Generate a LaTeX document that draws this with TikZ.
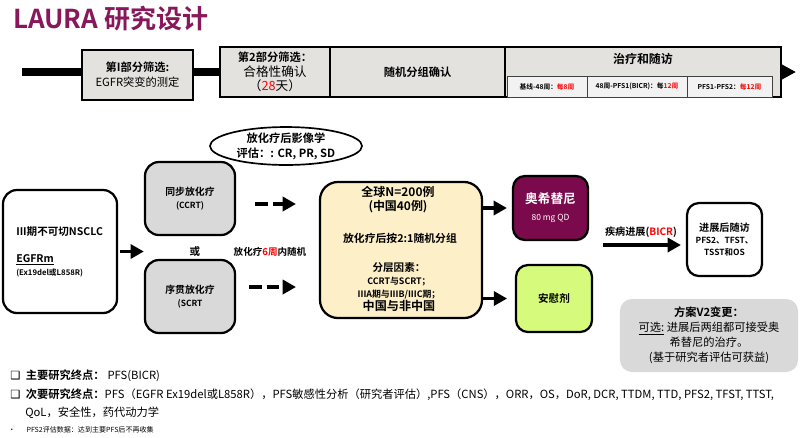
\documentclass[tikz,border=0pt]{standalone}
\usepackage{fontspec}
\setmainfont{Noto Sans CJK SC}[BoldFont={Noto Sans CJK SC Bold}]
\newfontfamily\symfont{DejaVu Sans}
\usepackage{xcolor}
\usetikzlibrary{arrows.meta,positioning,shapes.geometric}
\definecolor{titlered}{HTML}{87185B}
\definecolor{phase}{HTML}{E3E2DF}
\definecolor{phaselight}{HTML}{F2F2F2}
\definecolor{rtgray}{HTML}{D9D9D9}
\definecolor{cream}{HTML}{FDEFC8}
\definecolor{osired}{HTML}{7A0A4C}
\definecolor{lime}{HTML}{D6FA7C}
\definecolor{hl}{HTML}{FF0000}
\newcommand{\fsz}[2]{\fontsize{#1}{#2}\selectfont}

\begin{document}
\begin{tikzpicture}[x=0.025cm,y=-0.025cm,
    phasebox/.style={draw=black,line width=1.2pt,fill=phase,minimum height=12.5mm,
                     inner sep=1pt,align=center,font=\fsz{8}{10.5}},
    subbox/.style={draw=black!75,line width=0.6pt,fill=phaselight,minimum height=5.25mm,
                   inner sep=1pt,font=\fsz{4.8}{6}\bfseries},
    roundbox/.style={draw=black,line width=1.6pt,rounded corners=3.5mm,align=center},
    arr/.style={line width=2.8pt,-{Triangle[length=9.5pt,width=10pt]}},
    dasharr/.style={arr,dash pattern=on 9pt off 3.5pt}
  ]
    \useasboundingbox (0,0) rectangle (800,437);
    % title
    \node[anchor=west,inner sep=0,font=\fsz{18.5}{20}\bfseries,text=titlered] (ttl) at (13,19) {LAURA 研究设计};
    % timeline
    \coordinate (tl0) at (22,72);
    \coordinate (tl1) at (796,72);
    \draw[line width=5.7pt,-{Triangle[length=11pt,width=11pt]}] (tl0) -- (tl1);
    \node[phasebox,minimum width=27.75mm] (scr1) at (137.5,75) {\textbf{第I部分筛选:}\\EGFR突变的测定};
    \node[phasebox,minimum width=27.5mm] (scr2) at (275,72)
      {\textbf{第2部分筛选：}\\{\fsz{9}{11}合格性确认}\\{\fsz{9}{11}（\textcolor{hl}{28}天）}};
    \node[phasebox,minimum width=43.75mm] (conf) at (417.5,72) {\textbf{随机分组确认}};
    \node[phasebox,minimum width=69mm] (trt) at (643,72) {};
    \node[font=\fsz{8.5}{10}\bfseries] (trtlab) at (643,59) {治疗和随访};
    \node[subbox,minimum width=20mm] (fu1) at (547,86.5) {基线-48周：\textcolor{hl}{每8周}};
    \node[subbox,minimum width=25mm] (fu2) at (637,86.5) {48周-PFS1(BICR)：每\textcolor{hl}{12周}};
    \node[subbox,minimum width=21.25mm] (fu3) at (729.5,86.5) {PFS1-PFS2：\textcolor{hl}{每12周}};
    % imaging assessment
    \node[ellipse,draw,line width=1.2pt,minimum width=38mm,minimum height=7mm,inner sep=0,
          align=center,font=\fsz{8}{10.5}\bfseries] (img) at (286,146) {放化疗后影像学\\评估：: CR, PR, SD};
    % patients
    \node[roundbox,fill=white,minimum width=28.5mm,minimum height=30.75mm] (pat) at (60,251.5) {};
    \node[anchor=west,inner sep=0,font=\fsz{7.5}{9}\bfseries] (patlab) at (16,232) {III期不可切NSCLC};
    \node[anchor=west,inner sep=0,font=\fsz{7.5}{9}\bfseries] (egfr) at (16,260) {\underline{EGFRm}};
    \node[anchor=west,inner sep=0,font=\fsz{5.5}{7}\bfseries] (mut) at (16,273) {(Ex19del或L858R)};
    % chemoradiotherapy
    \node[roundbox,fill=rtgray,minimum width=22.5mm,minimum height=18.25mm,font=\fsz{7}{9}\bfseries]
      (ccrt) at (190,198.5) {同步放化疗\\{\fsz{6}{8}(CCRT)}};
    \node[font=\fsz{7.5}{9}\bfseries] (or) at (195,252) {或};
    \node[roundbox,fill=rtgray,minimum width=22.5mm,minimum height=18.25mm,font=\fsz{7}{9}\bfseries]
      (scrt) at (190,296.5) {序贯放化疗\\{\fsz{6}{8}(SCRT}};
    \draw[dasharr,dash pattern=on 8.5pt off 2.5pt,shorten <=1.5pt] (pat.east) -- (pat.east -| ccrt.west);
    \node[font=\fsz{6.8}{8}\bfseries] (win) at (270,252) {放化疗\textcolor{hl}{6周}内随机};
    \coordinate (cc1) at (255,204);
    \coordinate (cc2) at (296,204);
    \coordinate (sc1) at (249,287);
    \coordinate (sc2) at (296,287);
    \draw[dasharr] (cc1) -- (cc2);
    \draw[dasharr] (sc1) -- (sc2);
    % randomisation
    \node[roundbox,fill=cream,minimum width=40.5mm,minimum height=34mm,rounded corners=4.5mm] (rnd) at (401,250) {};
    \node[align=center,font=\fsz{8.5}{10}\bfseries] (rndn) at (398,200) {全球N=200例\\(中国40例)};
    \node[font=\fsz{7.7}{9}\bfseries] (rndr) at (400,238) {放化疗后按2:1随机分组};
    \node[align=center,font=\fsz{7.5}{9.2}\bfseries] (strat) at (399,287)
      {分层因素：\\{\fsz{6.3}{9.2}CCRT与SCRT；}\\{\fsz{6.3}{9.2}IIIA期与IIIB/IIIC期；}\\{\fsz{8.6}{10}中国与非中国}};
    % arms
    \node[roundbox,fill=osired,text=white,minimum width=18.75mm,minimum height=16mm,rounded corners=3mm]
      (osi) at (550.5,208) {{\fsz{9}{11}\bfseries 奥希替尼}\\{\fsz{6}{8}80 mg QD}};
    \node[roundbox,fill=lime,minimum width=19mm,minimum height=16.75mm,rounded corners=3mm,font=\fsz{7.5}{9}\bfseries]
      (pbo) at (554,298.5) {安慰剂};
    \draw[arr,shorten >=3.5pt] (rnd.east |- osi.west) -- (osi.west);
    \draw[arr,shorten >=5.5pt] (rnd.east |- pbo.west) -- (pbo.west);
    % progression
    \node[roundbox,fill=white,minimum width=18.75mm,minimum height=18.25mm,rounded corners=3mm,font=\fsz{6}{8.5}\bfseries]
      (fu) at (724.5,239.5) {{\fsz{7.2}{8.5}进展后随访}\\PFS2、TFST、\\TSST和OS};
    \node[font=\fsz{7.2}{9}\bfseries] (pd) at (641,232) {疾病进展(\textcolor{hl}{BICR})};
    \coordinate (pdst) at (603,245);
    \draw[arr,shorten >=3.5pt] (pdst) -- (pdst -| fu.west);
    % protocol note
    \node[fill=rtgray,rounded corners=3mm,minimum width=44.5mm,minimum height=18.25mm,align=center,
          font=\fsz{8}{10.7}] (v2) at (709,335.5)
      {\textbf{方案V2变更：}\\\underline{可选:} 进展后两组都可接受奥\\希替尼的治疗。\\(基于研究者评估可获益)};
    % endpoints
    \node[anchor=west,inner sep=0,font=\fsz{8}{10}] (ep1) at (10,376)
      {{\symfont ❑}\hspace{4pt}\textbf{主要研究终点：}\hspace{2pt}PFS(BICR)};
    \node[anchor=west,inner sep=0,font=\fsz{8}{10}] (ep2) at (10,395)
      {{\symfont ❑}\hspace{4pt}\textbf{次要研究终点：}PFS（EGFR Ex19del或L858R），PFS敏感性分析（研究者评估）,PFS（CNS），ORR，OS，DoR, DCR, TTDM, TTD, PFS2, TFST, TTST,};
    \node[anchor=west,inner sep=0,font=\fsz{8}{10}] (ep3) at (25,413) {QoL，安全性，药代动力学};
    \node[anchor=west,inner sep=0,font=\fsz{5}{6}] (ep4) at (8,430) {•\hspace{8pt}PFS2评估数据：达到主要PFS后不再收集};
\end{tikzpicture}
\end{document}
